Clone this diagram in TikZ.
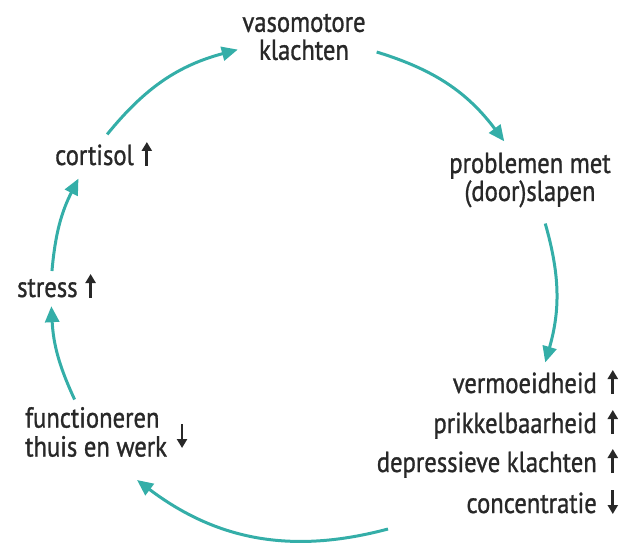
\documentclass[tikz,border=0pt]{standalone}
\usepackage{fontspec}
\setmainfont[FakeStretch=0.85,FakeBold=1]{PT Sans}
\usetikzlibrary{arrows.meta,calc}
\definecolor{teal1}{RGB}{52,174,168}
\definecolor{txt}{RGB}{40,40,40}
\newcommand\myuparr{\tikz[baseline=0pt]\draw[txt,line width=2.8pt,-{Triangle[length=9pt,width=10pt]}] (0pt,-1pt) -- (0pt,23pt);}
\newcommand\mydnarr{\tikz[baseline=0pt]\draw[txt,line width=2.8pt,-{Triangle[length=9pt,width=10pt]}] (0pt,23pt) -- (0pt,-1pt);}
\begin{document}
\begin{tikzpicture}[x=1pt,y=1pt,
  lbl/.style={font=\fontsize{29}{28}\selectfont, text=txt, inner sep=0pt},
  flow/.style={draw=teal1, line width=3pt, -{Triangle[length=16pt,width=14pt]}}]
\useasboundingbox (0,0) rectangle (621,547);
\coordinate (c) at (303,254);
% nodes
\node[lbl, align=center] (vaso) at (304,510) {vasomotore\\klachten};
\node[lbl, align=center] (probl) at (530,367) {problemen met\\(door)slapen};
\node[lbl, anchor=base east] (verm) at (618,154) {vermoeidheid\hspace{11pt}\myuparr};
\node[lbl, anchor=base east] (prik) at (618,114) {prikkelbaarheid\hspace{11pt}\myuparr};
\node[lbl, anchor=base east] (depr) at (618,75) {depressieve klachten\hspace{11pt}\myuparr};
\node[lbl, anchor=base east] (conc) at (618,34) {concentratie\hspace{11pt}\mydnarr};
\node[lbl, anchor=west] (func) at (25,111) {\begin{tabular}{@{}l@{}}functioneren\\thuis en werk\end{tabular}\hspace{10pt}$\vcenter{\hbox{\mydnarr}}$};
\node[lbl, anchor=base west] (stress) at (17,250) {stress\hspace{8pt}\myuparr};
\node[lbl, anchor=base west] (cort) at (55,382) {cortisol\hspace{8pt}\myuparr};
% connector end points on the cycle
\coordinate (s1) at ($(c)+(141:252)$);
\coordinate (e1) at ($(c)+(105:252)$);
\coordinate (s2) at ($(c)+(73:252)$);
\coordinate (e2) at ($(c)+(37:252)$);
\coordinate (s3) at ($(c)+(16:252)$);
\coordinate (e3) at ($(c)+(-16:252)$);
\coordinate (s4) at (388,18);
\coordinate (e4) at (137,67);
\coordinate (s5) at ($(c)+(205:252)$);
\coordinate (e5) at ($(c)+(183:252)$);
\coordinate (s6) at ($(c)+(175:252)$);
\coordinate (e6) at ($(c)+(153:252)$);
\draw[flow] (s1) to[bend left=18] (e1);
\draw[flow] (s2) to[bend left=18] (e2);
\draw[flow] (s3) to[bend left=16] (e3);
\draw[flow] (s4) to[bend left=26] (e4);
\draw[flow] (s5) to[bend left=11] (e5);
\draw[flow] (s6) to[bend left=11] (e6);
\end{tikzpicture}
\end{document}
